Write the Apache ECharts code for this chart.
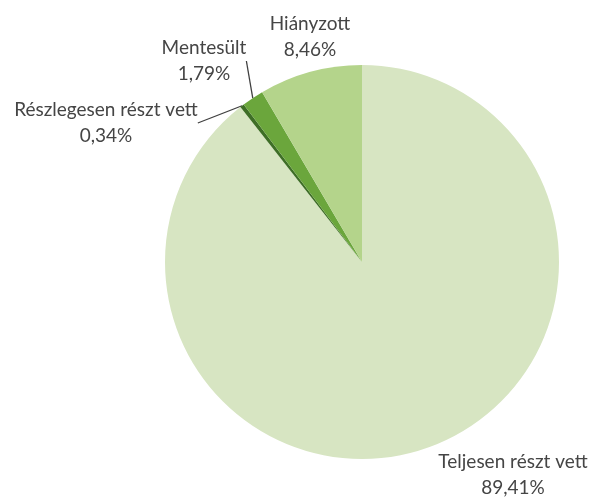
<!DOCTYPE html>
<html><head><meta charset="utf-8">
<script src="https://cdn.jsdelivr.net/npm/echarts@6/dist/echarts.min.js"></script>
<style>html,body{margin:0;padding:0;background:#fff}#c{width:593px;height:497px}</style>
</head><body><div id="c"></div>
<script>
var categories = ['Teljesen részt vett', 'Részlegesen részt vett', 'Mentesült', 'Hiányzott'];
var values = [89.41, 0.34, 1.79, 8.46];
var colors = ['#d7e5c2', '#3e6e26', '#6ba63c', '#b4d48b'];
var labelPos = [[513, 475], [106, 123], [204, 61], [310, 37]];
var chart = echarts.init(document.getElementById('c'));
chart.setOption({
  animation: false,
  series: [{
    type: 'pie',
    center: [362, 262],
    radius: 197,
    startAngle: 90,
    clockwise: true,
    data: categories.map(function (c, i) {
      return { name: c, value: values[i], itemStyle: { color: colors[i] },
        labelLine: { show: i === 1 || i === 2 } };
    }),
    label: {
      show: true,
      position: 'outside',
      overflow: 'none',
      formatter: function (p) { return p.name + '\n' + p.value.toFixed(2).replace('.', ',') + '%'; },
      color: '#454545',
      fontFamily: 'Lato',
      fontSize: 19,
      lineHeight: 26,
      align: 'center'
    },
    labelLine: { lineStyle: { color: '#404040', width: 1.3 }, length: 0, length2: 0, smooth: false },
    labelLayout: function (p) {
      var q = labelPos[p.dataIndex];
      return { x: q[0], y: q[1], align: 'center', verticalAlign: 'middle' };
    }
  }]
});
</script></body></html>
